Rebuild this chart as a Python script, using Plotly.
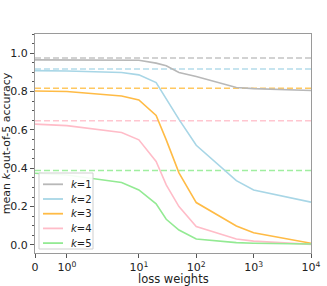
import numpy as np
import plotly.graph_objects as go

# ---- data ----
loss_weights = [0, 1, 5, 10, 20, 30, 50, 100, 500, 1000, 10000]
k1 = [0.965, 0.965, 0.965, 0.963, 0.948, 0.934, 0.899, 0.878, 0.821, 0.815, 0.805]
k2 = [0.909, 0.907, 0.899, 0.887, 0.847, 0.762, 0.655, 0.520, 0.335, 0.287, 0.223]
k3 = [0.803, 0.800, 0.777, 0.756, 0.675, 0.548, 0.376, 0.221, 0.099, 0.064, 0.009]
k4 = [0.630, 0.622, 0.586, 0.548, 0.435, 0.313, 0.200, 0.096, 0.031, 0.020, 0.003]
k5 = [0.374, 0.365, 0.326, 0.287, 0.214, 0.134, 0.078, 0.031, 0.012, 0.009, 0.005]
baselines = [0.975, 0.918, 0.817, 0.648, 0.388]
labels = ["<i>k</i>=1", "<i>k</i>=2", "<i>k</i>=3", "<i>k</i>=4", "<i>k</i>=5"]
tick_values = [0, 1, 10, 100, 1000, 10000]
tick_labels = ["0", "10<sup>0</sup>", "10<sup>1</sup>", "10<sup>2</sup>", "10<sup>3</sup>", "10<sup>4</sup>"]

colors = ["#b8b8b8", "#a8d6e6", "#ffbb45", "#ffbcc8", "#93ea93"]
dash_colors = ["#c4c4c4", "#b4dcea", "#ffc860", "#ffc6d0", "#a0eea0"]

# symlog transform (linthresh=2, linscale=1, base 10), like matplotlib
LINTHRESH = 2.0
LINSCALE_ADJ = 1.0 / (1.0 - 1.0 / 10.0)


def symlog(v):
    v = np.asarray(v, dtype=float)
    out = np.where(
        np.abs(v) <= LINTHRESH,
        v / LINTHRESH * LINSCALE_ADJ,
        np.sign(v) * (LINSCALE_ADJ + np.log10(np.maximum(np.abs(v), 1e-12) / LINTHRESH)),
    )
    return out


xt = symlog(loss_weights)
series = [k1, k2, k3, k4, k5]

fig = go.Figure()
for ys, lab, c in zip(series, labels, colors):
    fig.add_trace(go.Scatter(x=xt, y=ys, mode="lines", name=lab, showlegend=False,
                             line=dict(color=c, width=1.6), hoverinfo="skip"))

for b, c in zip(baselines, dash_colors):
    fig.add_shape(type="line", xref="paper", x0=0, x1=1, yref="y", y0=b, y1=b,
                  line=dict(color=c, width=1.5, dash="6px,3px"), layer="below")

# ---- compact legend (matplotlib-like) drawn on an overlay axis spanning [0,1] ----
W, H = 276.0, 219.0  # plot area size in px
bx0, bx1, by0, by1 = 4 / W, 58 / W, 4 / H, 80 / H
fig.add_trace(go.Scatter(
    x=[bx0, bx1, bx1, bx0, bx0], y=[by0, by0, by1, by1, by0],
    xaxis="x2", yaxis="y2", mode="lines", fill="toself",
    fillcolor="rgba(255,255,255,0.9)", line=dict(color="#cfcfcf", width=1),
    showlegend=False, hoverinfo="skip"))
for i, (lab, c) in enumerate(zip(labels, colors)):
    yy = (253 - (184.3 + 14.7 * i)) / H
    fig.add_trace(go.Scatter(x=[8 / W, 28 / W], y=[yy, yy], xaxis="x2", yaxis="y2",
                             mode="lines", line=dict(color=c, width=1.8),
                             showlegend=False, hoverinfo="skip"))
    fig.add_annotation(x=34 / W, y=yy, xref="paper", yref="paper", text=lab,
                       showarrow=False, xanchor="left", yanchor="middle",
                       font=dict(size=10, color="#222"))

# x axis title as annotation for exact placement
fig.add_annotation(x=0.5, y=(253 - 279) / H, xref="paper", yref="paper",
                   text="loss weights", showarrow=False, xanchor="center",
                   yanchor="middle", font=dict(size=11.5, color="#222"))

axis_col = "#9a9a9a"
fig.update_layout(
    width=327, height=286,
    margin=dict(l=35, r=16, t=34, b=33, autoexpand=False),
    paper_bgcolor="white", plot_bgcolor="white",
    font=dict(family="DejaVu Sans", size=11, color="#222"),
    showlegend=False,
    xaxis2=dict(overlaying="x", range=[0, 1], visible=False, fixedrange=True),
    yaxis2=dict(overlaying="y", range=[0, 1], visible=False, fixedrange=True),
)
fig.update_xaxes(
    selector=dict(anchor="y"),
    automargin=False,
    range=[float(symlog(0)), float(symlog(10000))],
    tickvals=symlog(tick_values).tolist(), ticktext=tick_labels,
    ticks="outside", ticklen=4, tickcolor="#555", showgrid=False, zeroline=False,
    showline=True, linecolor=axis_col, linewidth=1, mirror=True,
)
fig.update_layout(xaxis=dict(
    automargin=False,
    range=[float(symlog(0)), float(symlog(10000))],
    tickvals=symlog(tick_values).tolist(), ticktext=tick_labels,
    ticks="outside", ticklen=4, tickcolor="#555", showgrid=False, zeroline=False,
    showline=True, linecolor=axis_col, linewidth=1, mirror=True,
))
fig.update_layout(yaxis=dict(
    automargin=False,
    range=[-0.042, 1.1],
    tickvals=[0, 0.2, 0.4, 0.6, 0.8, 1.0], ticktext=["0.0", "0.2", "0.4", "0.6", "0.8", "1.0"],
    ticks="outside", ticklen=4, tickcolor="#555", showgrid=False, zeroline=False,
    minor=dict(tickvals=[round(0.05 * i, 2) for i in range(0, 23)], ticks="outside",
               ticklen=2, tickcolor="#555"),
    showline=True, linecolor=axis_col, linewidth=1, mirror=True,
    title=dict(text="mean <i>k</i>-out-of-5 accuracy", standoff=2, font=dict(size=11)),
))

fig.write_html("out.html", config={"displayModeBar": False},
               post_script="document.body.style.margin='0';document.body.style.padding='0';")
